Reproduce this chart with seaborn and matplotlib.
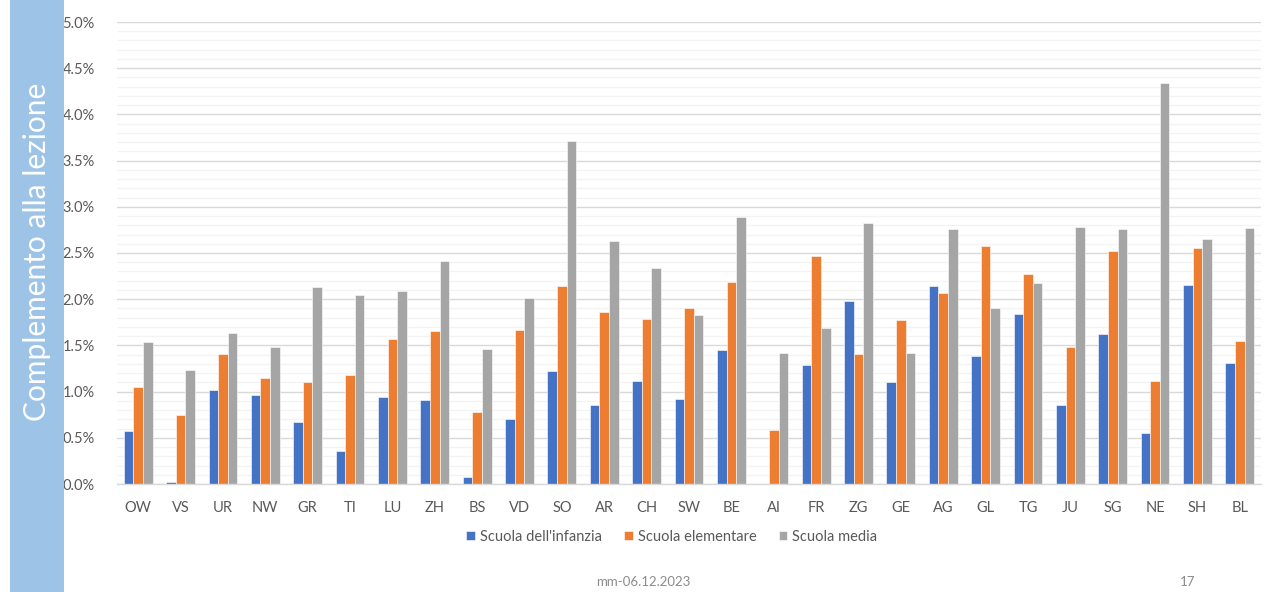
import matplotlib
matplotlib.use("Agg")
import matplotlib.pyplot as plt
from matplotlib.patches import Rectangle
from matplotlib.ticker import MultipleLocator, FuncFormatter
import seaborn as sns
import pandas as pd

# Cantons
cantons = ["OW", "VS", "UR", "NW", "GR", "TI", "LU", "ZH", "BS", "VD", "SO", "AR", "CH", "SW",
           "BE", "AI", "FR", "ZG", "GE", "AG", "GL", "TG", "JU", "SG", "NE", "SH", "BL"]

# Share of "complemento alla lezione" in percent, by school level
infanzia = [0.57, 0.02, 1.02, 0.96, 0.67, 0.36, 0.94, 0.91, 0.08, 0.70, 1.22, 0.85, 1.11, 0.92,
            1.45, 0.00, 1.29, 1.98, 1.10, 2.14, 1.38, 1.84, 0.86, 1.62, 0.55, 2.15, 1.31]
elementare = [1.05, 0.75, 1.41, 1.15, 1.10, 1.18, 1.57, 1.66, 0.78, 1.67, 2.14, 1.86, 1.79, 1.90,
              2.19, 0.58, 2.47, 1.41, 1.77, 2.07, 2.58, 2.27, 1.48, 2.52, 1.12, 2.55, 1.55]
media = [1.54, 1.23, 1.63, 1.48, 2.13, 2.05, 2.09, 2.41, 1.46, 2.01, 3.71, 2.63, 2.34, 1.83,
         2.89, 1.42, 1.69, 2.82, 1.42, 2.76, 1.91, 2.18, 2.78, 2.76, 4.34, 2.65, 2.77]

series_names = ["Scuola dell'infanzia", "Scuola elementare", "Scuola media"]
series_colors = ["#4472C4", "#ED7D31", "#A5A5A5"]

df = pd.concat([
    pd.DataFrame({"canton": cantons, "livello": name, "valore": vals})
    for name, vals in zip(series_names, [infanzia, elementare, media])
])

sns.set_theme(style="white")
plt.rcParams["font.family"] = ["Lato", "DejaVu Sans"]

W, H = 1266, 592
fig = plt.figure(figsize=(W / 100, H / 100), dpi=100)

# Side band with vertical title
fig.patches.append(Rectangle((10 / W, 0), 54 / W, 1, transform=fig.transFigure,
                             facecolor="#9DC3E6", edgecolor="none", zorder=0))
fig.text(37 / W, 1 - 252 / H, "Complemento alla lezione", rotation=90, color="white",
         fontsize=21.5, ha="center", va="center", zorder=10)

ax = fig.add_axes([117 / W, 108 / H, (1261 - 117) / W, (484 - 22) / H])

sns.barplot(data=df, x="canton", y="valore", hue="livello", order=cantons,
            hue_order=series_names, palette=series_colors, saturation=1,
            width=0.68, gap=0, edgecolor="white", linewidth=0.4, ax=ax, legend=True)

ax.set_ylim(0, 5.0)
ax.set_xlim(-0.5, len(cantons) - 0.5)
ax.yaxis.set_major_locator(MultipleLocator(0.5))
ax.yaxis.set_minor_locator(MultipleLocator(0.1))
ax.yaxis.set_major_formatter(FuncFormatter(lambda v, _: f"{v:.1f}%"))
ax.grid(axis="y", which="major", color="#D9D9D9", linewidth=1.0)
ax.grid(axis="y", which="minor", color="#F3F3F3", linewidth=0.9)
ax.set_axisbelow(True)
for side in ["top", "right", "left"]:
    ax.spines[side].set_visible(False)
ax.spines["bottom"].set_color("#D9D9D9")
ax.spines["bottom"].set_linewidth(1.0)
ax.tick_params(axis="y", which="both", length=0, pad=16, labelsize=10.5, labelcolor="#595959")
ax.tick_params(axis="x", length=0, pad=12, labelsize=10.5, labelcolor="#595959")
ax.set_xlabel("")
ax.set_ylabel("")

ax.legend(loc="center", bbox_to_anchor=(672 / W, 1 - 537 / H), bbox_transform=fig.transFigure,
          ncol=3, frameon=False, fontsize=10.5, handlelength=0.6, handleheight=0.6,
          handletextpad=0.35, columnspacing=1.5, labelcolor="#595959")

# Footer
fig.text(643 / W, 1 - 582 / H, "mm-06.12.2023", color="#8C8C8C", fontsize=9.5,
         ha="center", va="center")
fig.text(1188 / W, 1 - 582 / H, "17", color="#8C8C8C", fontsize=9.5,
         ha="center", va="center")

fig.savefig("out.png", dpi=100, facecolor="white")
